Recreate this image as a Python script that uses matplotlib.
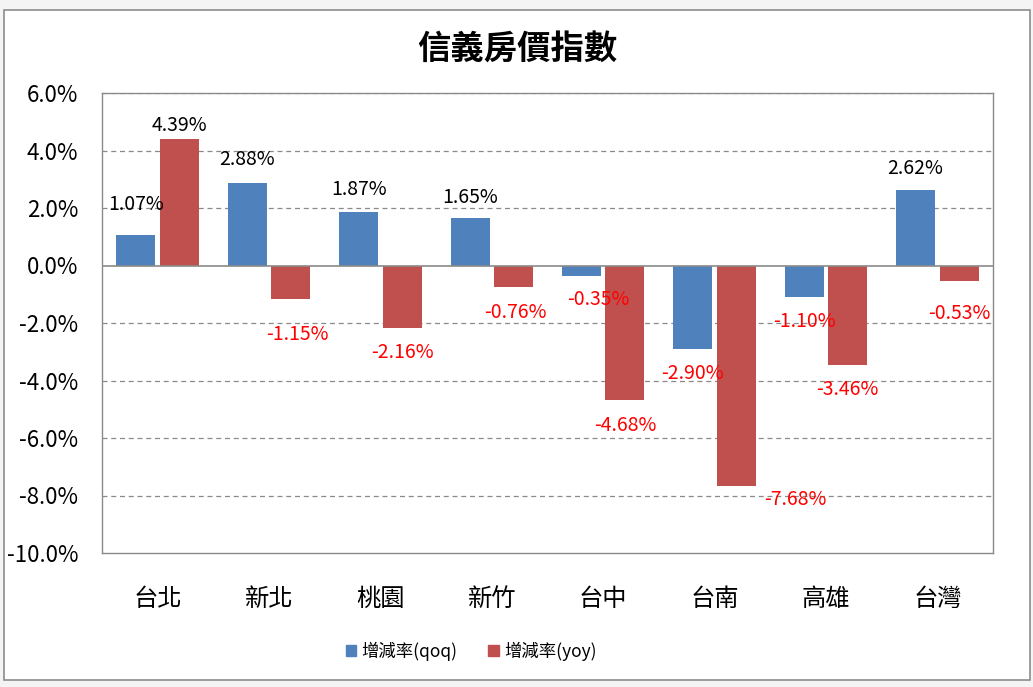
import matplotlib
matplotlib.use("Agg")
import matplotlib.pyplot as plt
import numpy as np
from matplotlib.patches import Rectangle
from matplotlib.transforms import offset_copy

plt.rcParams['font.family'] = ['Noto Sans CJK TC', 'DejaVu Sans']

categories = ['台北', '新北', '桃園', '新竹', '台中', '台南', '高雄', '台灣']
qoq = [1.07, 2.88, 1.87, 1.65, -0.35, -2.90, -1.10, 2.62]
yoy = [4.39, -1.15, -2.16, -0.76, -4.68, -7.68, -3.46, -0.53]
series_names = ['增減率(qoq)', '增減率(yoy)']
title = '信義房價指數'
yticks = [6, 4, 2, 0, -2, -4, -6, -8, -10]

# label offsets in pixels (dx, dy) relative to bar end
qoq_off = [(0, 30), (0, 23), (0, 22), (0, 21), (17, -24), (0, -25), (0, -24), (0, 22)]
yoy_off = [(0, 14), (7, -36), (0, -25), (2, -25), (0, -25), (59, -13), (0, -25), (0, -33)]

blue = '#4F81BD'
red = '#C0504D'

W, H = 1033, 687
fig = plt.figure(figsize=(W/100, H/100), dpi=100, facecolor='#f4f4f4')
fig.patches.append(Rectangle((4/W, 1-680/H), (1030-4)/W, (680-10)/H, transform=fig.transFigure,
                             facecolor='white', edgecolor='#8c8c8c', linewidth=1.2, zorder=-5))

ax = fig.add_axes([102/W, 1-553/H, (993-102)/W, (553-93)/H])
ax.set_zorder(2)
ax.set_facecolor('white')
x = np.arange(len(categories))
bw = 0.35
d = 0.195
ax.bar(x - d, qoq, bw, color=blue, zorder=3)
ax.bar(x + d, yoy, bw, color=red, zorder=3)

ax.set_xlim(-0.5, len(categories) - 0.5)
ax.set_ylim(-10, 6)
ax.set_yticks(yticks)
ax.set_yticklabels([f'{t:.1f}%' for t in yticks], fontsize=16)
ax.set_xticks(x)
ax.set_xticklabels(categories, fontsize=17.5)
ax.tick_params(axis='both', length=0)
ax.tick_params(axis='y', pad=17)
ax.tick_params(axis='x', pad=24)
for t in [6, 4, 2, -2, -4, -6, -8]:
    ax.axhline(t, color='#8a8a8a', linestyle=(0, (4, 3)), linewidth=0.9, zorder=1)
ax.axhline(0, color='#8a8a8a', linewidth=1.2, zorder=4)
for s in ax.spines.values():
    s.set_color('#8a8a8a')
    s.set_linewidth(1.0)

def label(vals, xs, offs):
    for v, xx, (dx, dy) in zip(vals, xs, offs):
        tr = offset_copy(ax.transData, fig=fig, x=dx*0.72, y=dy*0.72, units='points')
        ax.text(xx, v, f'{v:.2f}%', transform=tr, ha='center', va='center',
                fontsize=14, color='black' if v >= 0 else '#FF0000', zorder=5)

label(qoq, x - d, qoq_off)
label(yoy, x + d, yoy_off)

fig.text(517/W, 1-50/H, title, ha='center', va='center', fontsize=24, fontweight='bold')

handles = [Rectangle((0, 0), 1, 1, color=blue), Rectangle((0, 0), 1, 1, color=red)]
fig.legend(handles, series_names, loc='center', bbox_to_anchor=(471/W, 1-651/H), ncol=2,
           frameon=False, fontsize=12.5, handlelength=0.6, handleheight=0.6,
           handletextpad=0.3, columnspacing=1.8)

fig.savefig('out.png', dpi=100, facecolor=fig.get_facecolor())
